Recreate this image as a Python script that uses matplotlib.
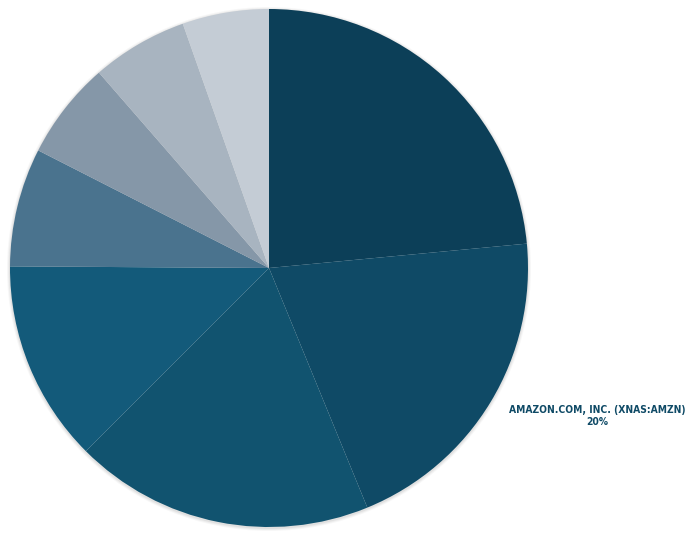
import matplotlib.pyplot as plt
from matplotlib.patches import Circle

## slice shares (percent), clockwise from 12 o'clock
shares = [23.5, 20.3, 18.7, 12.6, 7.4, 6.1, 6.0, 5.4]
colors = ['#0c3f58', '#0f4a66', '#11536f', '#135a7a',
          '#4a738e', '#8597a8', '#a8b4c0', '#c4ccd5']
label_name = 'AMAZON.COM, INC. (XNAS:AMZN)'
label_pct = '20%'

fig = plt.figure(figsize=(6.94, 5.38), dpi=100)
ax = fig.add_axes([0, 0, 1, 1])

cx, cy, r = 269, 270, 259

## faint shadow ring
for i, a in enumerate([0.05, 0.04, 0.03]):
    ax.add_patch(Circle((cx, cy - 1), r + 1 + i, color='#000000', alpha=a, lw=0, zorder=0))

ax.pie(shares, colors=colors, startangle=90, counterclock=False,
       center=(cx, cy), radius=r, frame=True,
       wedgeprops=dict(linewidth=0, antialiased=True))
ax.set_xlim(0, 694)
ax.set_ylim(0, 538)
ax.set_aspect('equal')
ax.axis('off')

ax.text(597, 122, label_name + '\n' + label_pct, ha='center', va='center',
        fontsize=7.4, fontweight='bold', color='#0f4a66',
        family='DejaVu Sans', stretch='condensed', linespacing=1.25)

fig.savefig('out.png', dpi=100)
